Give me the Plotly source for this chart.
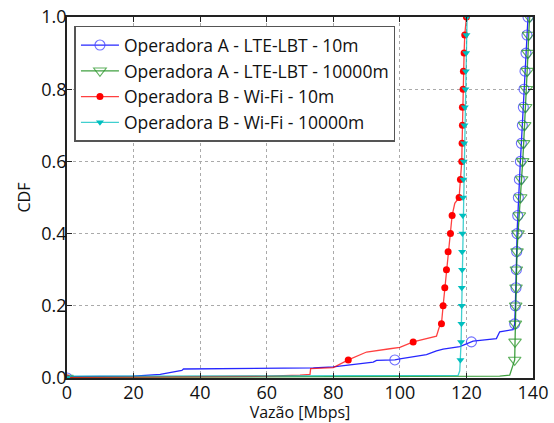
import plotly.graph_objects as go

# ---------------- data ----------------
names = ["Operadora A - LTE-LBT - 10m", "Operadora A - LTE-LBT - 10000m",
         "Operadora B - Wi-Fi - 10m", "Operadora B - Wi-Fi - 10000m"]

# CDF curves (throughput in Mbps, cumulative probability)
a10_x = [0, 20, 28, 30, 34.5, 35, 50, 70, 74, 80, 92, 93, 98.5, 100, 108, 111, 113, 118, 121.5, 122, 129, 130, 134, 134.5,
         134.7, 134.9, 135.0, 135.1, 135.2, 135.4, 135.6, 135.9, 136.2, 136.5, 136.8, 137.1, 137.3, 137.6, 137.9, 138.2, 138.5]
a10_y = [0.004, 0.005, 0.01, 0.013, 0.021, 0.025, 0.026, 0.027, 0.028, 0.031, 0.044, 0.049, 0.05, 0.053, 0.065, 0.075, 0.08, 0.087, 0.10, 0.102, 0.109, 0.128, 0.134, 0.15,
         0.20, 0.25, 0.30, 0.35, 0.40, 0.45, 0.50, 0.55, 0.60, 0.65, 0.70, 0.75, 0.80, 0.85, 0.90, 0.95, 1.0]

a10k_x = [0, 100, 130, 133, 134.5, 134.6, 134.7, 134.8, 134.9, 135.0, 135.2, 135.5, 135.9, 136.3, 136.6, 136.9, 137.2, 137.5, 137.8, 138.0, 138.3, 138.5, 138.7, 139.0]
a10k_y = [0.002, 0.003, 0.005, 0.008, 0.05, 0.10, 0.15, 0.20, 0.25, 0.30, 0.35, 0.40, 0.45, 0.50, 0.55, 0.60, 0.65, 0.70, 0.75, 0.80, 0.85, 0.90, 0.95, 1.0]

b10_x = [0, 40, 60, 70, 73, 73.2, 80, 84.5, 90, 97, 100, 104, 108, 111, 111.8, 112.5, 113, 113.5, 114, 114.5, 115.2, 115.7, 116.5,
         117.8, 118.2, 118.6, 118.7, 118.8, 118.8, 119.0, 119.1, 119.3, 119.5, 120.0]
b10_y = [0.002, 0.004, 0.005, 0.008, 0.01, 0.026, 0.029, 0.05, 0.072, 0.081, 0.085, 0.10, 0.109, 0.116, 0.14, 0.15, 0.20, 0.25, 0.30, 0.35, 0.40, 0.45, 0.484,
         0.50, 0.55, 0.60, 0.65, 0.70, 0.75, 0.80, 0.85, 0.90, 0.95, 1.0]

b10k_x = [0, 60, 117.5, 118.0, 118.2, 118.4, 118.5, 118.6, 118.6, 118.7, 118.7, 118.8, 118.9, 119.0, 119.1, 119.2, 119.3, 119.4, 119.5, 119.7, 119.8, 119.9, 120.0, 120.2]
b10k_y = [0.005, 0.006, 0.007, 0.02, 0.05, 0.10, 0.15, 0.20, 0.25, 0.30, 0.35, 0.40, 0.45, 0.50, 0.55, 0.60, 0.65, 0.70, 0.75, 0.80, 0.85, 0.90, 0.95, 1.0]

# marker positions (every 0.05 of the CDF)
mark_levels = [0.0, 0.05, 0.10, 0.15, 0.20, 0.25, 0.30, 0.35, 0.40, 0.45, 0.50,
               0.55, 0.60, 0.65, 0.70, 0.75, 0.80, 0.85, 0.90, 0.95, 1.0]
a10_mx = [0, 98.5, 121.5, 134.5, 134.7, 134.9, 135.0, 135.1, 135.2, 135.4, 135.6, 135.9, 136.2, 136.5, 136.8, 137.1, 137.3, 137.6, 137.9, 138.2, 138.5]
a10k_mx = [0, 134.5, 134.6, 134.7, 134.8, 134.9, 135.0, 135.2, 135.5, 135.9, 136.3, 136.6, 136.9, 137.2, 137.5, 137.8, 138.0, 138.3, 138.5, 138.7, 139.0]
b10_mx = [0, 84.5, 104, 112.5, 113, 113.5, 114, 114.5, 115.2, 115.7, 117.8, 118.2, 118.6, 118.7, 118.8, 118.8, 119.0, 119.1, 119.3, 119.5, 120.0]
b10k_mx = [0, 118.2, 118.4, 118.5, 118.6, 118.6, 118.7, 118.7, 118.8, 118.9, 119.0, 119.1, 119.2, 119.3, 119.4, 119.5, 119.7, 119.8, 119.9, 120.0, 120.2]

x_ticks = [0, 20, 40, 60, 80, 100, 120, 140]
y_ticks = [0.0, 0.2, 0.4, 0.6, 0.8, 1.0]
y_tick_text = ["0.0", "0.2", "0.4", "0.6", "0.8", "1.0"]

# ---------------- style ----------------
FONT = "Open Sans"
series = [
    (names[0], a10_x, a10_y, a10_mx, "rgba(0,0,255,0.85)",
     dict(symbol="circle-open", size=10, color="rgba(60,60,255,0.75)", line=dict(width=1.1))),
    (names[1], a10k_x, a10k_y, a10k_mx, "rgba(0,128,0,0.75)",
     dict(symbol="triangle-down-open", size=11, color="rgba(40,150,40,0.75)", line=dict(width=1.1))),
    (names[2], b10_x, b10_y, b10_mx, "rgba(255,0,0,0.75)",
     dict(symbol="circle", size=7, color="rgb(255,0,0)", line=dict(width=0))),
    (names[3], b10k_x, b10k_y, b10k_mx, "rgba(0,191,191,0.75)",
     dict(symbol="triangle-down", size=7, color="rgb(0,191,191)", line=dict(width=0))),
]

fig = go.Figure()
for name, lx, ly, mx, lc, mk in series:
    fig.add_trace(go.Scatter(x=lx, y=ly, mode="lines", line=dict(color=lc, width=1.3),
                             showlegend=False, legendgroup=name, hoverinfo="skip"))
    fig.add_trace(go.Scatter(x=mx, y=mark_levels, mode="markers", marker=mk,
                             showlegend=False, legendgroup=name))
    fig.add_trace(go.Scatter(x=[None], y=[None], mode="lines+markers", name=name,
                             line=dict(color=lc, width=1.3), marker=mk, legendgroup=name))

axis_common = dict(showline=True, linecolor="#222", linewidth=1.5, mirror="allticks",
                   ticks="inside", ticklen=5, tickcolor="#222", tickwidth=1,
                   showgrid=True, gridcolor="#aaa", griddash="dot", gridwidth=1,
                   zeroline=False, automargin=False,
                   tickfont=dict(family=FONT, size=18, color="#111"))

fig.update_xaxes(range=[0, 140], tickvals=x_ticks, ticktext=[str(v) for v in x_ticks],
                 title=dict(text="Vazão [Mbps]", font=dict(family=FONT, size=16, color="#111"), standoff=3),
                 ticklabelstandoff=-2,
                 **axis_common)
fig.update_yaxes(range=[0, 1.0], tickvals=y_ticks, ticktext=y_tick_text,
                 title=dict(text="CDF", font=dict(family=FONT, size=16, color="#111"), standoff=7),
                 ticklabelstandoff=-5,
                 **axis_common)

fig.update_layout(
    width=554, height=423,
    margin=dict(l=67, r=21, t=17, b=45),
    paper_bgcolor="white", plot_bgcolor="white",
    font=dict(family=FONT, size=18, color="#111"),
    showlegend=True,
    legend=dict(x=0.016, y=0.976, xanchor="left", yanchor="top",
                bgcolor="white", bordercolor="#555", borderwidth=1.5,
                font=dict(family=FONT, size=17.5, color="#111"),
                itemwidth=38, tracegroupgap=0),
)

fig.write_html("out.html", config={"displayModeBar": False},
               post_script="document.body.style.margin='0';document.body.style.overflow='hidden';")
